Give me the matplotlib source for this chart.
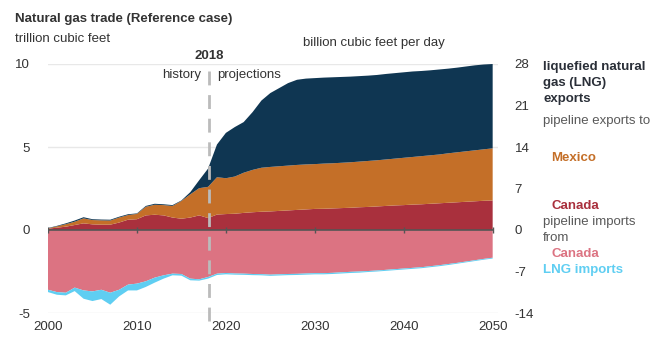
import numpy as np
import matplotlib
matplotlib.use("Agg")
import matplotlib.pyplot as plt

plt.rcParams['font.family'] = ['Liberation Sans', 'DejaVu Sans']
plt.rcParams['axes.unicode_minus'] = False

# data, trillion cubic feet
years = list(range(2000, 2051))

canada_exports = [0.08, 0.14, 0.20, 0.30, 0.40, 0.34, 0.32, 0.32, 0.45, 0.62,
                  0.65, 0.88, 0.92, 0.88, 0.75, 0.68, 0.75, 0.88, 0.72, 0.93,
                  0.96, 0.98, 1.03, 1.07, 1.10, 1.12, 1.15, 1.18, 1.21, 1.24,
                  1.27, 1.28, 1.30, 1.32, 1.34, 1.37, 1.39, 1.42, 1.45, 1.48,
                  1.50, 1.53, 1.55, 1.58, 1.61, 1.64, 1.67, 1.70, 1.73, 1.76,
                  1.78]
mexico_exports = [0.02, 0.08, 0.15, 0.20, 0.30, 0.26, 0.26, 0.25, 0.30, 0.28,
                  0.32, 0.52, 0.60, 0.62, 0.70, 1.07, 1.40, 1.64, 1.88, 2.25,
                  2.16, 2.24, 2.42, 2.55, 2.65, 2.68, 2.69, 2.70, 2.71, 2.71,
                  2.70, 2.72, 2.72, 2.73, 2.74, 2.75, 2.77, 2.78, 2.80, 2.82,
                  2.85, 2.87, 2.90, 2.92, 2.94, 2.98, 3.01, 3.04, 3.07, 3.10,
                  3.14]
lng_exports = [0.02, 0.03, 0.05, 0.07, 0.07, 0.05, 0.05, 0.05, 0.05, 0.05,
               0.03, 0.05, 0.06, 0.05, 0.05, 0.03, 0.13, 0.48, 1.10, 1.97,
               2.73, 2.98, 3.05, 3.48, 4.05, 4.45, 4.71, 4.97, 5.13, 5.17,
               5.18, 5.18, 5.18, 5.17, 5.16, 5.15, 5.14, 5.14, 5.15, 5.15,
               5.15, 5.15, 5.13, 5.12, 5.12, 5.10, 5.10, 5.11, 5.12, 5.11,
               5.08]
canada_imports = [3.60, 3.74, 3.78, 3.47, 3.64, 3.70, 3.60, 3.78, 3.60, 3.29,
                  3.23, 3.09, 2.87, 2.73, 2.63, 2.65, 2.93, 2.97, 2.83, 2.63,
                  2.59, 2.62, 2.63, 2.65, 2.66, 2.69, 2.67, 2.65, 2.64, 2.62,
                  2.60, 2.60, 2.58, 2.55, 2.52, 2.50, 2.47, 2.44, 2.40, 2.36,
                  2.32, 2.28, 2.24, 2.18, 2.12, 2.05, 1.98, 1.90, 1.82, 1.74,
                  1.67]
lng_imports = [0.14, 0.16, 0.16, 0.21, 0.50, 0.58, 0.56, 0.72, 0.40, 0.35,
               0.41, 0.34, 0.30, 0.20, 0.10, 0.10, 0.10, 0.08, 0.10, 0.08,
               0.08, 0.07, 0.07, 0.07, 0.07, 0.07, 0.07, 0.07, 0.07, 0.07,
               0.07, 0.07, 0.07, 0.07, 0.07, 0.07, 0.06, 0.06, 0.06, 0.06,
               0.06, 0.06, 0.06, 0.06, 0.06, 0.06, 0.05, 0.05, 0.05, 0.05,
               0.05]

left_ticks = [-5, 0, 5, 10]
right_ticks = [-14, -7, 0, 7, 14, 21, 28]
x_ticks = [2000, 2010, 2020, 2030, 2040, 2050]

navy = '#0f3652'
orange = '#c46f28'
red = '#a9303d'
pink = '#dc7382'
blue = '#5fcef2'
txt = '#333333'
grey = '#595959'

fig = plt.figure(figsize=(6.58, 3.49), dpi=100)
ax = fig.add_axes([48/658, 1-313/349, (498-48)/658, (313-64)/349])

ax.stackplot(years, canada_exports, mexico_exports, lng_exports,
             colors=[red, orange, navy], linewidth=0)
ax.stackplot(years, -np.array(canada_imports), -np.array(lng_imports),
             colors=[pink, blue], linewidth=0)

ax.set_xlim(2000, 2050.6)
ax.set_ylim(-5, 10)
for s in ax.spines.values():
    s.set_visible(False)

# grid
for t in [10, 5, -5]:
    ax.axhline(t, color='#e8e8e8', lw=1, zorder=0)
ax.axhline(0, xmax=(2050 - 2000) / 50.6, color='#555555', lw=1.2, zorder=5)
ax.vlines(x_ticks, -0.2, 0.2, color='#555555', lw=1, zorder=5)

ax.set_yticks(left_ticks)
ax.set_xticks(x_ticks)
ax.tick_params(axis='y', length=0, pad=13, labelsize=9.5, labelcolor=txt)
ax.tick_params(axis='x', length=0, pad=6, labelsize=9.5, labelcolor=txt)

ax2 = ax.twinx()
ax2.set_ylim(-14, 28)
ax2.set_yticks(right_ticks)
ax2.tick_params(axis='y', length=0, pad=12, labelsize=9.5, labelcolor=txt)
for s in ax2.spines.values():
    s.set_visible(False)

# history / projections divider
ax.plot([2018.1, 2018.1], [-5.5, 10.1], color='#bbbbbb', lw=2,
        dashes=(5, 3.5), clip_on=False, zorder=6)
ax.text(2018.1, 10.1, '2018', ha='center', va='bottom', fontsize=9.5,
        fontweight='bold', color=txt)
ax.text(2017.2, 9.35, 'history', ha='right', va='center', fontsize=9.5, color=txt)
ax.text(2019.0, 9.35, 'projections', ha='left', va='center', fontsize=9.5, color=txt)

fig.text(15/658, 1-19/349, 'Natural gas trade (Reference case)', fontsize=9.5,
         fontweight='bold', color=txt, va='center')
fig.text(15/658, 1-39/349, 'trillion cubic feet', fontsize=9.5, color=txt, va='center')
fig.text(303/658, 1-43/349, 'billion cubic feet per day', fontsize=9.5,
         color=txt, va='center')

# labels on the right
lx = 543/658
lx2 = 551/658
for y, s in [(67, 'liquefied natural'), (83, 'gas (LNG)'), (99, 'exports')]:
    fig.text(lx, 1-y/349, s, fontsize=9.5, fontweight='bold', color='#2a2f38', va='center')
fig.text(lx, 1-121/349, 'pipeline exports to', fontsize=9.5, color=grey, va='center')
fig.text(lx2, 1-158/349, 'Mexico', fontsize=9.5, fontweight='bold', color=orange, va='center')
fig.text(lx2, 1-206/349, 'Canada', fontsize=9.5, fontweight='bold', color=red, va='center')
fig.text(lx, 1-222/349, 'pipeline imports', fontsize=9.5, color=grey, va='center')
fig.text(lx, 1-238/349, 'from', fontsize=9.5, color=grey, va='center')
fig.text(lx2, 1-254/349, 'Canada', fontsize=9.5, fontweight='bold', color=pink, va='center')
fig.text(lx, 1-270/349, 'LNG imports', fontsize=9.5, fontweight='bold', color=blue, va='center')

fig.savefig('out.png', dpi=100)
